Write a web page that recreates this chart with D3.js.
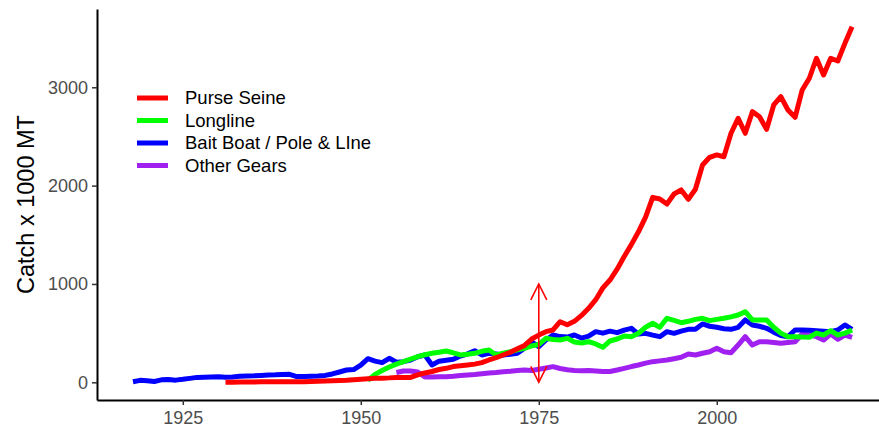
<!DOCTYPE html>
<html>
<head>
<meta charset="utf-8">
<script src="https://cdn.jsdelivr.net/npm/d3@7"></script>
<style>
  html, body { margin: 0; padding: 0; background: #fff; }
  svg { display: block; font-family: "Liberation Sans", Arial, sans-serif; }
</style>
</head>
<body>
<svg id="chart" width="879" height="430"></svg>
<script>
// Tuna catch by gear type, thousand metric tonnes per year
const seriesNames = ["Purse Seine", "Longline", "Bait Boat / Pole & LIne", "Other Gears"];
const seriesColors = ["#ff0000", "#00ff00", "#0000ff", "#a020f0"];

const purseSeineStart = 1931;
const purseSeine = [
  0, 0, 2, 3, 3, 5, 5, 6, 5, 6,             // 1931-1940
  5, 6, 8, 10, 12, 15, 18, 20, 25, 30,      // 1941-1950
  35, 40, 42, 45, 50, 48, 50, 75, 95, 110,  // 1951-1960
  130, 142, 160, 168, 176, 185, 200, 227, 250, 278, // 1961-1970
  305, 340, 375, 440, 480, 515, 532, 616, 585, 620, // 1971-1980
  680, 752, 840, 960, 1040, 1150, 1280, 1400, 1530, 1680, // 1981-1990
  1881, 1864, 1813, 1915, 1956, 1861, 1963, 2210, 2288, 2312, // 1991-2000
  2294, 2532, 2685, 2532, 2752, 2701, 2573, 2820, 2905, 2769, // 2001-2010
  2695, 2973, 3092, 3295, 3125, 3295, 3267, 3447, 3616        // 2011-2019
];

const longlineStart = 1951;
const longline = [
  20, 80, 120, 155, 185, 210, 235, 261, 280, 295,   // 1951-1960
  305, 318, 300, 278, 285, 295, 315, 328, 278, 295, // 1961-1970
  311, 330, 346, 370, 385, 447, 435, 430, 447, 410, // 1971-1980
  400, 413, 390, 356, 420, 440, 470, 464, 498, 560, // 1981-1990
  600, 559, 651, 630, 606, 620, 640, 651, 627, 640, // 1991-2000
  651, 665, 684, 718, 634, 634, 634, 560, 500, 464, // 2001-2010
  464, 460, 458, 500, 481, 525, 481, 500, 532       // 2011-2019
];

const baitBoatStart = 1918;
const baitBoat = [
  5, 20, 15, 8, 25, 28, 22,                         // 1918-1924
  30, 40, 50, 52, 55, 57,                           // 1925-1930
  52, 55, 62, 64, 66, 70, 74, 76, 80, 81,           // 1931-1940
  58, 60, 62, 64, 70, 85, 105, 125, 130, 175,       // 1941-1950
  240, 215, 200, 244, 205, 210, 227, 260, 278, 176, // 1951-1960
  215, 225, 235, 267, 290, 321, 278, 295, 288, 278, // 1961-1970
  285, 295, 346, 413, 362, 430, 481, 465, 460, 481, // 1971-1980
  450, 470, 515, 500, 520, 505, 530, 549, 490, 498, // 1981-1990
  480, 464, 515, 498, 520, 539, 539, 593, 570, 559, // 1991-2000
  545, 539, 559, 634, 583, 570, 549, 510, 475, 464, // 2001-2010
  532, 532, 530, 525, 520, 515, 532, 583, 539       // 2011-2019
];

const otherGearsStart = 1955;
const otherGears = [
  100, 115, 115, 105, 55, 55,                       // 1955-1960
  57, 57, 62, 70, 75, 80, 88, 95, 100, 108,         // 1961-1970
  112, 120, 125, 120, 132, 145, 159, 140, 128, 120, // 1971-1980
  118, 120, 115, 110, 110, 125, 142, 160, 176, 195, // 1981-1990
  210, 218, 227, 240, 254, 288, 278, 295, 311, 346, // 1991-2000
  311, 301, 379, 464, 379, 413, 413, 405, 397, 405, // 2001-2010
  413, 491, 481, 464, 430, 491, 438, 481, 458       // 2011-2019
];

const xTicks = [1925, 1950, 1975, 2000];
const yTicks = [0, 1000, 2000, 3000];
const yTitle = "Catch x 1000 MT";

// Reference arrow marking the 1975 shift (from 0 to 1000)
const arrowYear = 1975;
const arrowRange = [0, 1000];

function toPoints(start, values) {
  return values.map((v, i) => ({ year: start + i, value: v }));
}

const series = [
  { name: seriesNames[0], color: seriesColors[0], data: toPoints(purseSeineStart, purseSeine) },
  { name: seriesNames[1], color: seriesColors[1], data: toPoints(longlineStart, longline) },
  { name: seriesNames[2], color: seriesColors[2], data: toPoints(baitBoatStart, baitBoat) },
  { name: seriesNames[3], color: seriesColors[3], data: toPoints(otherGearsStart, otherGears) }
];

const svg = d3.select("#chart");

// Panel geometry (ggplot-style 5% expansion on both axes)
const yearMin = 1918, yearMax = 2019;
const xPad = (yearMax - yearMin) * 0.05;
const panel = { left: 97, top: 9, bottom: 400, right: 888 };

const x = d3.scaleLinear()
  .domain([yearMin - xPad, yearMax + xPad])
  .range([panel.left, panel.right]);

const y = d3.scaleLinear()
  .domain([-180, 3796])
  .range([panel.bottom, panel.top]);

// Axes
const xAxis = svg.append("g")
  .attr("transform", `translate(0,${panel.bottom})`)
  .call(d3.axisBottom(x).tickValues(xTicks).tickFormat(d3.format("d")).tickSize(5).tickSizeOuter(0).tickPadding(5));

const yAxis = svg.append("g")
  .attr("transform", `translate(${panel.left},0)`)
  .call(d3.axisLeft(y).tickValues(yTicks).tickFormat(d3.format("d")).tickSize(5).tickSizeOuter(0).tickPadding(4));

[xAxis, yAxis].forEach(g => {
  g.select(".domain").attr("stroke", "#000").attr("stroke-width", 2);
  g.selectAll(".tick line").attr("stroke", "#333").attr("stroke-width", 1.5);
  g.selectAll(".tick text")
    .attr("fill", "#4d4d4d")
    .style("font-size", "18px")
    .style("font-family", "'Liberation Sans', Arial, sans-serif");
});
xAxis.selectAll(".tick text").attr("dy", "0.75em");

// Y axis title
svg.append("text")
  .attr("transform", `translate(34,${(panel.top + panel.bottom) / 2}) rotate(-90)`)
  .attr("text-anchor", "middle")
  .attr("fill", "#000")
  .style("font-size", "23.5px")
  .text(yTitle);

// Series lines, drawn bottom-up so the purse seine line sits on top
const line = d3.line()
  .x(d => x(d.year))
  .y(d => y(d.value));

const drawOrder = [3, 2, 1, 0];
svg.append("g")
  .selectAll("path")
  .data(drawOrder.map(i => series[i]))
  .join("path")
  .attr("d", d => line(d.data))
  .attr("fill", "none")
  .attr("stroke", d => d.color)
  .attr("stroke-width", 5)
  .attr("stroke-linejoin", "round")
  .attr("stroke-linecap", "butt");

// Double-headed arrow
const ax = x(arrowYear);
const ay0 = y(arrowRange[0]);
const ay1 = y(arrowRange[1]);
const headLen = 16, headHalf = 8;
const arrowG = svg.append("g")
  .attr("stroke", "#ff0000")
  .attr("stroke-width", 1.6)
  .attr("fill", "none")
  .attr("stroke-linejoin", "miter");
arrowG.append("line").attr("x1", ax).attr("x2", ax).attr("y1", ay0).attr("y2", ay1);
arrowG.append("path")
  .attr("d", `M${ax - headHalf},${ay1 + headLen}L${ax},${ay1}L${ax + headHalf},${ay1 + headLen}`);
arrowG.append("path")
  .attr("d", `M${ax - headHalf},${ay0 - headLen}L${ax},${ay0}L${ax + headHalf},${ay0 - headLen}`);

// Legend
const legend = svg.append("g").attr("transform", "translate(137,98)");
const rowH = 22.5;
const items = legend.selectAll("g")
  .data(series)
  .join("g")
  .attr("transform", (d, i) => `translate(0,${i * rowH})`);
items.append("line")
  .attr("x1", 0).attr("x2", 31)
  .attr("y1", 0).attr("y2", 0)
  .attr("stroke", d => d.color)
  .attr("stroke-width", 5);
items.append("text")
  .attr("x", 48)
  .attr("y", 0)
  .attr("dy", "0.35em")
  .attr("fill", "#000")
  .style("font-size", "18.5px")
  .text(d => d.name);
</script>
</body>
</html>
